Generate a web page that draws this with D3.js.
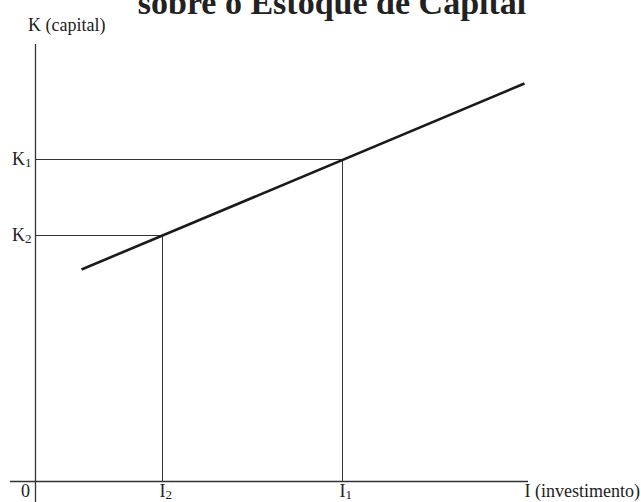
<!DOCTYPE html>
<html>
<head>
<meta charset="utf-8">
<script src="https://cdn.jsdelivr.net/npm/d3@7"></script>
<style>
  body { margin: 0; background: #fff; }
  text { font-family: "Liberation Serif", "DejaVu Serif", serif; fill: #222; }
</style>
</head>
<body>
<div id="chart-area"></div>
<script>
// data (arbitrary units, I on x, K on y)
var lineI = [46, 489];          // investment at the two ends of the curve
var lineK = [212, 398];         // capital at the two ends of the curve
var pointNames = ["1", "2"];    // subscripts of the marked points
var pointI = [307, 127];        // I1, I2
var pointK = [322, 246];        // K1, K2
var titleText = "sobre o Estoque de Capital";
var yLabel = "K (capital)";
var xLabel = "I (investimento)";

var width = 641;
var height = 502;

var svg = d3.select("#chart-area")
          .append("svg")
          .attr("width", width)
          .attr("height", height);

var x = d3.scaleLinear()
          .domain([0, 500])
          .range([35.5, 535.5]);

var y = d3.scaleLinear()
          .domain([0, 420])
          .range([481.5, 61.5]);

// title (clipped by the top edge, as in the scan)
svg.append("text")
   .attr("x", 332)
   .attr("y", 14)
   .attr("text-anchor", "middle")
   .attr("font-size", "34px")
   .attr("font-weight", "bold")
   .text(titleText);

// axes
svg.append("line")
   .attr("x1", x(0)).attr("x2", x(0))
   .attr("y1", 44).attr("y2", height)
   .attr("stroke", "#333").attr("stroke-width", 1.3);

svg.append("line")
   .attr("x1", 10).attr("x2", 528)
   .attr("y1", y(0)).attr("y2", y(0))
   .attr("stroke", "#333").attr("stroke-width", 1.3);

// guide lines from each point to both axes
var pts = pointNames.map((n, i) => { return {name: n, I: pointI[i], K: pointK[i]}; });

svg.selectAll(".hguide")
   .data(pts)
   .enter().append("line")
   .attr("class", "hguide")
   .attr("x1", x(0)).attr("x2", (d) => { return x(d.I); })
   .attr("y1", (d) => { return y(d.K); }).attr("y2", (d) => { return y(d.K); })
   .attr("stroke", "#333").attr("stroke-width", 1);

svg.selectAll(".vguide")
   .data(pts)
   .enter().append("line")
   .attr("class", "vguide")
   .attr("x1", (d) => { return x(d.I); }).attr("x2", (d) => { return x(d.I); })
   .attr("y1", (d) => { return y(d.K); }).attr("y2", y(0))
   .attr("stroke", "#333").attr("stroke-width", 1);

// the curve K(I)
var line = d3.line()
             .x((d) => { return x(d[0]); })
             .y((d) => { return y(d[1]); });

svg.append("path")
   .datum(d3.zip(lineI, lineK))
   .attr("d", line)
   .attr("fill", "none")
   .attr("stroke", "#1a1a1a")
   .attr("stroke-width", 2.6);

// tick labels on the K axis
var kLab = svg.selectAll(".klab")
   .data(pts)
   .enter().append("text")
   .attr("class", "klab")
   .attr("x", 12)
   .attr("y", (d) => { return y(d.K) + 5; })
   .attr("font-size", "18px");
kLab.append("tspan").text("K");
kLab.append("tspan").attr("font-size", "13px").attr("dy", 2).text((d) => { return d.name; });

// tick labels on the I axis
var iLab = svg.selectAll(".ilab")
   .data(pts)
   .enter().append("text")
   .attr("class", "ilab")
   .attr("x", (d) => { return x(d.I) - 3; })
   .attr("y", 497)
   .attr("font-size", "18px");
iLab.append("tspan").text("I");
iLab.append("tspan").attr("font-size", "13px").attr("dy", 2).text((d) => { return d.name; });

svg.append("text")
   .attr("x", 21)
   .attr("y", 497)
   .attr("font-size", "18px")
   .text("0");

// axis titles
svg.append("text")
   .attr("x", 28)
   .attr("y", 31)
   .attr("font-size", "18px")
   .text(yLabel);

svg.append("text")
   .attr("x", 640)
   .attr("y", 497)
   .attr("text-anchor", "end")
   .attr("font-size", "18px")
   .text(xLabel);
</script>
</body>
</html>
